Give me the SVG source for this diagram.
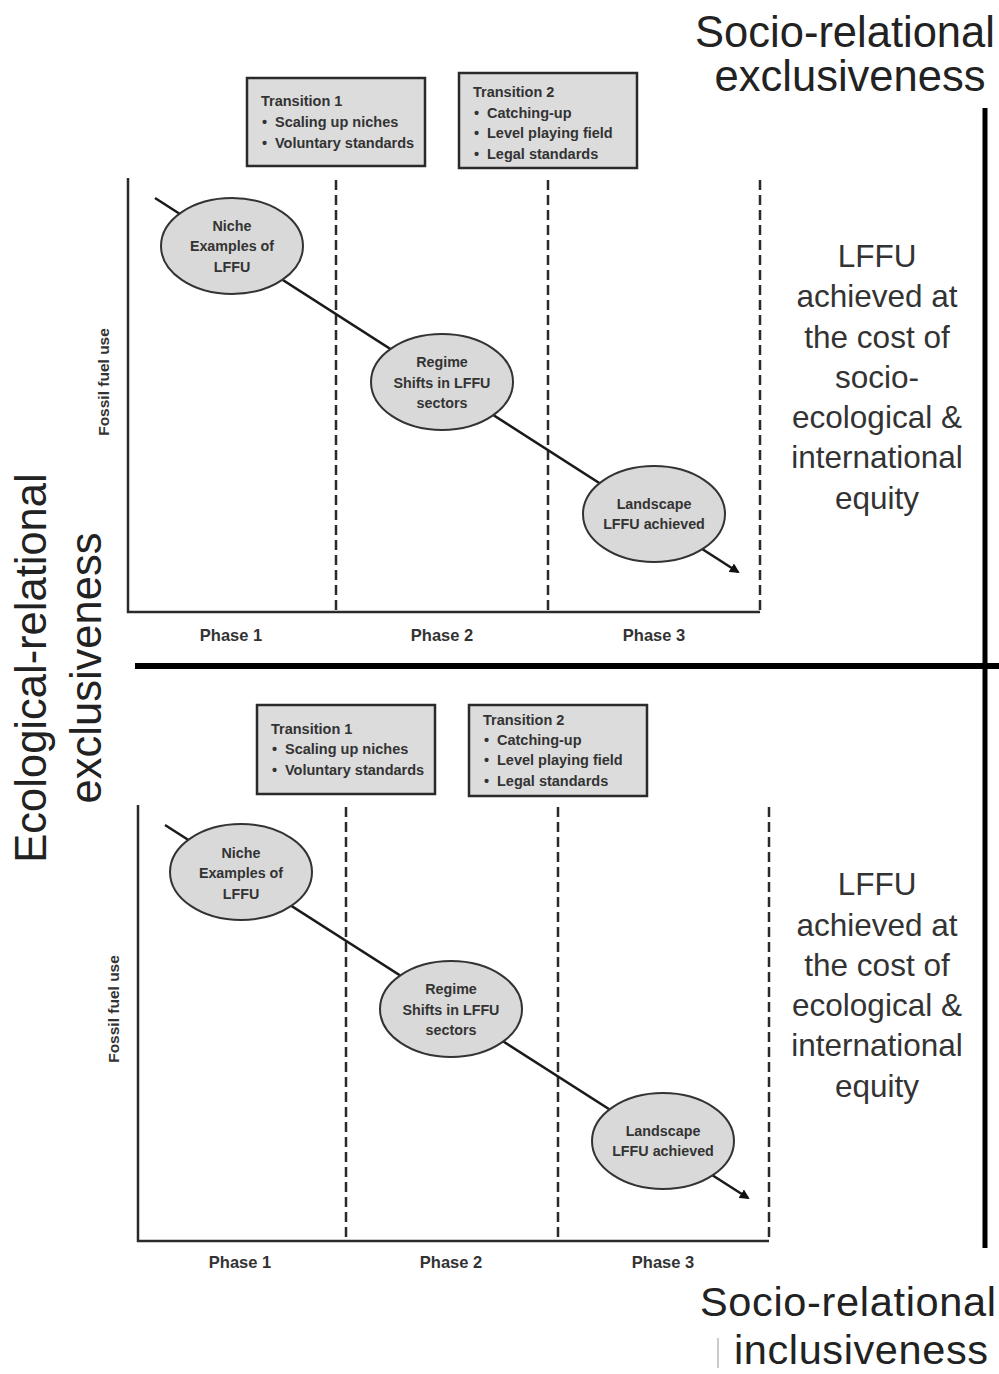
<svg xmlns="http://www.w3.org/2000/svg" width="999" height="1374" viewBox="0 0 999 1374">
  <defs>
    <style>
      .axis { stroke: #2a2a2a; stroke-width: 2.5; fill: none; }
      .dash { stroke: #2a2a2a; stroke-width: 2.5; stroke-dasharray: 10 5; fill: none; }
      .box { fill: #dcdcdc; stroke: #2a2a2a; stroke-width: 2.5; }
      .ell { fill: #d9d9d9; stroke: #333; stroke-width: 2; }
      .flow { stroke: #1a1a1a; stroke-width: 2.5; fill: none; }
      .small { font-family: "Liberation Sans", Arial, sans-serif; font-weight: bold; font-size: 14.5px; fill: #333; }
      .ellt { font-family: "Liberation Sans", Arial, sans-serif; font-weight: bold; font-size: 14.3px; fill: #333; text-anchor: middle; }
      .axl { font-family: "Liberation Sans", Arial, sans-serif; font-weight: bold; font-size: 15.5px; fill: #333; text-anchor: middle; }
      .phase { font-family: "Liberation Sans", Arial, sans-serif; font-weight: bold; font-size: 16.5px; fill: #333; text-anchor: middle; }
      .big { font-family: "Liberation Sans", Arial, sans-serif; font-size: 43.5px; fill: #222; text-anchor: middle; }
      .bigb { font-family: "Liberation Sans", Arial, sans-serif; font-size: 41.5px; fill: #222; text-anchor: middle; }
      .side { font-family: "Liberation Sans", Arial, sans-serif; font-size: 31.5px; fill: #333; text-anchor: middle; }
      .frame { stroke: #000; fill: none; }
    </style>
    <marker id="arrow" markerWidth="10" markerHeight="10" refX="8" refY="5" orient="auto" markerUnits="userSpaceOnUse">
      <path d="M0,0 L10,5 L0,10 z" fill="#111"/>
    </marker>
  </defs>

  <rect width="999" height="1374" fill="#fff"/>

  <!-- Quadrant frame -->
  <g id="frame">
    <line class="frame" x1="985" y1="108" x2="985" y2="1248" stroke-width="5"/>
    <line class="frame" x1="135" y1="666" x2="999" y2="666" stroke-width="6"/>
    <line x1="718" y1="1338" x2="718" y2="1368" stroke="#bbb" stroke-width="1.5"/>
  </g>

  <!-- Axis titles -->
  <g id="titles">
    <text class="big" x="845" y="47">Socio-relational</text>
    <text class="big" x="850" y="91">exclusiveness</text>
    <text class="bigb" textLength="296" x="848" y="1316">Socio-relational</text>
    <text class="bigb" textLength="254" x="861" y="1364">inclusiveness</text>
    <text class="big" transform="translate(46,668) rotate(-90)">Ecological-relational</text>
    <text class="big" transform="translate(101,668) rotate(-90)">exclusiveness</text>
  </g>

  <!-- Upper panel -->
  <g id="panel-top">
    <g id="top-axes">
      <polyline class="axis" points="128,178 128,612 760,612"/>
      <line class="dash" x1="336" y1="180" x2="336" y2="612"/>
      <line class="dash" x1="548" y1="180" x2="548" y2="612"/>
      <line class="dash" x1="760" y1="180" x2="760" y2="612"/>
      <text class="axl" transform="translate(109,382) rotate(-90)">Fossil fuel use</text>
      <text class="phase" x="231" y="641">Phase 1</text>
      <text class="phase" x="442" y="641">Phase 2</text>
      <text class="phase" x="654" y="641">Phase 3</text>
    </g>
    <g id="top-connectors">
      <line class="flow" x1="155" y1="198" x2="738" y2="572" marker-end="url(#arrow)"/>
    </g>
    <g id="top-transition1">
      <rect class="box" x="247" y="78" width="178" height="88"/>
      <text class="small" x="261" y="106">Transition 1</text>
      <text class="small" x="262" y="127">•</text><text class="small" x="275" y="127">Scaling up niches</text>
      <text class="small" x="262" y="148">•</text><text class="small" x="275" y="148">Voluntary standards</text>
    </g>
    <g id="top-transition2">
      <rect class="box" x="459" y="73" width="178" height="95"/>
      <text class="small" x="473" y="97">Transition 2</text>
      <text class="small" x="474" y="118">•</text><text class="small" x="487" y="118">Catching-up</text>
      <text class="small" x="474" y="138">•</text><text class="small" x="487" y="138">Level playing field</text>
      <text class="small" x="474" y="159">•</text><text class="small" x="487" y="159">Legal standards</text>
    </g>
    <g id="top-niche">
      <ellipse class="ell" cx="232" cy="246" rx="71" ry="48"/>
      <text class="ellt" x="232" y="231">Niche</text>
      <text class="ellt" x="232" y="251">Examples of</text>
      <text class="ellt" x="232" y="272">LFFU</text>
    </g>
    <g id="top-regime">
      <ellipse class="ell" cx="442" cy="382" rx="71" ry="48"/>
      <text class="ellt" x="442" y="367">Regime</text>
      <text class="ellt" x="442" y="388">Shifts in LFFU</text>
      <text class="ellt" x="442" y="408">sectors</text>
    </g>
    <g id="top-landscape">
      <ellipse class="ell" cx="654" cy="514" rx="71" ry="48"/>
      <text class="ellt" x="654" y="509">Landscape</text>
      <text class="ellt" x="654" y="529">LFFU achieved</text>
    </g>
    <g id="top-note">
      <text class="side" x="877" y="267">LFFU</text>
      <text class="side" x="877" y="307">achieved at</text>
      <text class="side" x="877" y="348">the cost of</text>
      <text class="side" x="877" y="388">socio-</text>
      <text class="side" x="877" y="428">ecological &amp;</text>
      <text class="side" x="877" y="468">international</text>
      <text class="side" x="877" y="509">equity</text>
    </g>
  </g>

  <!-- Lower panel -->
  <g id="panel-bottom">
    <g id="bottom-axes">
      <polyline class="axis" points="138,805 138,1241 769,1241"/>
      <line class="dash" x1="346" y1="807" x2="346" y2="1241"/>
      <line class="dash" x1="558" y1="807" x2="558" y2="1241"/>
      <line class="dash" x1="769" y1="807" x2="769" y2="1241"/>
      <text class="axl" transform="translate(119,1009) rotate(-90)">Fossil fuel use</text>
      <text class="phase" x="240" y="1268">Phase 1</text>
      <text class="phase" x="451" y="1268">Phase 2</text>
      <text class="phase" x="663" y="1268">Phase 3</text>
    </g>
    <g id="bottom-connectors">
      <line class="flow" x1="165" y1="825" x2="748" y2="1198" marker-end="url(#arrow)"/>
    </g>
    <g id="bottom-transition1">
      <rect class="box" x="257" y="705" width="178" height="89"/>
      <text class="small" x="271" y="734">Transition 1</text>
      <text class="small" x="272" y="754">•</text><text class="small" x="285" y="754">Scaling up niches</text>
      <text class="small" x="272" y="775">•</text><text class="small" x="285" y="775">Voluntary standards</text>
    </g>
    <g id="bottom-transition2">
      <rect class="box" x="469" y="705" width="178" height="91"/>
      <text class="small" x="483" y="725">Transition 2</text>
      <text class="small" x="484" y="745">•</text><text class="small" x="497" y="745">Catching-up</text>
      <text class="small" x="484" y="765">•</text><text class="small" x="497" y="765">Level playing field</text>
      <text class="small" x="484" y="786">•</text><text class="small" x="497" y="786">Legal standards</text>
    </g>
    <g id="bottom-niche">
      <ellipse class="ell" cx="241" cy="872" rx="71" ry="48"/>
      <text class="ellt" x="241" y="858">Niche</text>
      <text class="ellt" x="241" y="878">Examples of</text>
      <text class="ellt" x="241" y="899">LFFU</text>
    </g>
    <g id="bottom-regime">
      <ellipse class="ell" cx="451" cy="1009" rx="71" ry="48"/>
      <text class="ellt" x="451" y="994">Regime</text>
      <text class="ellt" x="451" y="1015">Shifts in LFFU</text>
      <text class="ellt" x="451" y="1035">sectors</text>
    </g>
    <g id="bottom-landscape">
      <ellipse class="ell" cx="663" cy="1141" rx="71" ry="48"/>
      <text class="ellt" x="663" y="1136">Landscape</text>
      <text class="ellt" x="663" y="1156">LFFU achieved</text>
    </g>
    <g id="bottom-note">
      <text class="side" x="877" y="895">LFFU</text>
      <text class="side" x="877" y="936">achieved at</text>
      <text class="side" x="877" y="976">the cost of</text>
      <text class="side" x="877" y="1016">ecological &amp;</text>
      <text class="side" x="877" y="1056">international</text>
      <text class="side" x="877" y="1097">equity</text>
    </g>
  </g>
</svg>
